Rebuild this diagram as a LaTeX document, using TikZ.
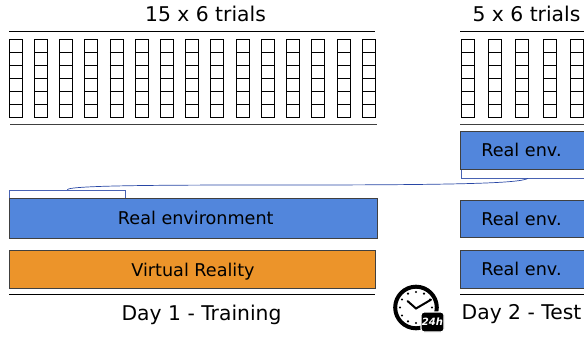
\documentclass[tikz,border=0pt]{standalone}
\usepackage{xcolor}
\usepackage{fontspec}
\setmainfont{DejaVu Sans}
\usetikzlibrary{calc}
\definecolor{envblue}{RGB}{82,134,220}
\definecolor{vrorange}{RGB}{236,148,42}
\definecolor{linkblue}{RGB}{40,70,165}
\tikzset{
  trialcell/.style={black, line width=0.8pt},
  condbox/.style={draw=black!75, line width=0.7pt, inner sep=0pt, font=\fontsize{17.6}{20}\selectfont},
  headrule/.style={black, line width=1.3pt},
  footrule/.style={black!75, line width=0.8pt},
  caption/.style={font=\fontsize{20.3}{24}\selectfont, inner sep=0pt},
  linkbox/.style={draw=linkblue!85, line width=0.7pt, inner sep=0pt, fill=white},
}
\begin{document}
\begin{tikzpicture}[x=1pt, y=-1pt]
  \useasboundingbox (0,0) rectangle (584,339);
  \clip (0,0) rectangle (584,339);
  \node[caption] (titletrain) at (205.5,14) {15 x 6 trials};
  \node[caption] (titletest) at (526.5,14) {5 x 6 trials};
  \draw[headrule] (9,31.5) -- (375,31.5);
  \draw[headrule] (460,31.5) -- (584,31.5);
  \draw[footrule] (10,124) -- (377,124);
  \draw[footrule] (460,124) -- (584,124);
  \draw[trialcell] (9.0,39) rectangle (22.0,117) (9.0,52) -- (22.0,52) (9.0,65) -- (22.0,65) (9.0,78) -- (22.0,78) (9.0,91) -- (22.0,91) (9.0,104) -- (22.0,104);
  \draw[trialcell] (34.2,39) rectangle (47.2,117) (34.2,52) -- (47.2,52) (34.2,65) -- (47.2,65) (34.2,78) -- (47.2,78) (34.2,91) -- (47.2,91) (34.2,104) -- (47.2,104);
  \draw[trialcell] (59.5,39) rectangle (72.5,117) (59.5,52) -- (72.5,52) (59.5,65) -- (72.5,65) (59.5,78) -- (72.5,78) (59.5,91) -- (72.5,91) (59.5,104) -- (72.5,104);
  \draw[trialcell] (84.7,39) rectangle (97.7,117) (84.7,52) -- (97.7,52) (84.7,65) -- (97.7,65) (84.7,78) -- (97.7,78) (84.7,91) -- (97.7,91) (84.7,104) -- (97.7,104);
  \draw[trialcell] (109.9,39) rectangle (122.9,117) (109.9,52) -- (122.9,52) (109.9,65) -- (122.9,65) (109.9,78) -- (122.9,78) (109.9,91) -- (122.9,91) (109.9,104) -- (122.9,104);
  \draw[trialcell] (135.2,39) rectangle (148.2,117) (135.2,52) -- (148.2,52) (135.2,65) -- (148.2,65) (135.2,78) -- (148.2,78) (135.2,91) -- (148.2,91) (135.2,104) -- (148.2,104);
  \draw[trialcell] (160.4,39) rectangle (173.4,117) (160.4,52) -- (173.4,52) (160.4,65) -- (173.4,65) (160.4,78) -- (173.4,78) (160.4,91) -- (173.4,91) (160.4,104) -- (173.4,104);
  \draw[trialcell] (185.6,39) rectangle (198.6,117) (185.6,52) -- (198.6,52) (185.6,65) -- (198.6,65) (185.6,78) -- (198.6,78) (185.6,91) -- (198.6,91) (185.6,104) -- (198.6,104);
  \draw[trialcell] (210.8,39) rectangle (223.8,117) (210.8,52) -- (223.8,52) (210.8,65) -- (223.8,65) (210.8,78) -- (223.8,78) (210.8,91) -- (223.8,91) (210.8,104) -- (223.8,104);
  \draw[trialcell] (236.1,39) rectangle (249.1,117) (236.1,52) -- (249.1,52) (236.1,65) -- (249.1,65) (236.1,78) -- (249.1,78) (236.1,91) -- (249.1,91) (236.1,104) -- (249.1,104);
  \draw[trialcell] (261.3,39) rectangle (274.3,117) (261.3,52) -- (274.3,52) (261.3,65) -- (274.3,65) (261.3,78) -- (274.3,78) (261.3,91) -- (274.3,91) (261.3,104) -- (274.3,104);
  \draw[trialcell] (286.5,39) rectangle (299.5,117) (286.5,52) -- (299.5,52) (286.5,65) -- (299.5,65) (286.5,78) -- (299.5,78) (286.5,91) -- (299.5,91) (286.5,104) -- (299.5,104);
  \draw[trialcell] (311.8,39) rectangle (324.8,117) (311.8,52) -- (324.8,52) (311.8,65) -- (324.8,65) (311.8,78) -- (324.8,78) (311.8,91) -- (324.8,91) (311.8,104) -- (324.8,104);
  \draw[trialcell] (337.0,39) rectangle (350.0,117) (337.0,52) -- (350.0,52) (337.0,65) -- (350.0,65) (337.0,78) -- (350.0,78) (337.0,91) -- (350.0,91) (337.0,104) -- (350.0,104);
  \draw[trialcell] (362.2,39) rectangle (375.2,117) (362.2,52) -- (375.2,52) (362.2,65) -- (375.2,65) (362.2,78) -- (375.2,78) (362.2,91) -- (375.2,91) (362.2,104) -- (375.2,104);
  \draw[trialcell] (461.3,39) rectangle (474.3,117) (461.3,52) -- (474.3,52) (461.3,65) -- (474.3,65) (461.3,78) -- (474.3,78) (461.3,91) -- (474.3,91) (461.3,104) -- (474.3,104);
  \draw[trialcell] (488.5,39) rectangle (501.5,117) (488.5,52) -- (501.5,52) (488.5,65) -- (501.5,65) (488.5,78) -- (501.5,78) (488.5,91) -- (501.5,91) (488.5,104) -- (501.5,104);
  \draw[trialcell] (515.7,39) rectangle (528.7,117) (515.7,52) -- (528.7,52) (515.7,65) -- (528.7,65) (515.7,78) -- (528.7,78) (515.7,91) -- (528.7,91) (515.7,104) -- (528.7,104);
  \draw[trialcell] (543.0,39) rectangle (556.0,117) (543.0,52) -- (556.0,52) (543.0,65) -- (556.0,65) (543.0,78) -- (556.0,78) (543.0,91) -- (556.0,91) (543.0,104) -- (556.0,104);
  \draw[trialcell] (570.2,39) rectangle (583.2,117) (570.2,52) -- (583.2,52) (570.2,65) -- (583.2,65) (570.2,78) -- (583.2,78) (570.2,91) -- (583.2,91) (570.2,104) -- (583.2,104);
  \node[linkbox, minimum width=134pt, minimum height=14pt] (linktest) at (528,171) {};
  \node[linkbox, minimum width=115.5pt, minimum height=14pt] (linktrain) at (67.3,197) {};
  \node[condbox, fill=envblue, minimum width=367.5pt, minimum height=39.5pt] (realtrain) at (193.3,218.2) {\kern5pt\raisebox{1pt}{Real environment}};
  \node[condbox, fill=vrorange, minimum width=366pt, minimum height=38pt, text depth=0pt] (vrtrain) at (192,269.5) {\kern2pt Virtual Reality};
  \node[condbox, fill=envblue, minimum width=126pt, minimum height=38pt] (realtesta) at (523,150) {\kern-3pt\raisebox{-1pt}{Real env.}};
  \node[condbox, fill=envblue, minimum width=126pt, minimum height=37pt] (realtestb) at (523,218.5) {\kern-3pt Real env.};
  \node[condbox, fill=envblue, minimum width=126pt, minimum height=38pt] (realtestc) at (523,269) {\kern-3pt Real env.};
  \coordinate (linkmid) at (290,185);
  \draw[linkblue, line width=0.7pt] (linktest.south) .. controls (520,183) and (470,185) .. (linkmid) .. controls (180,185) and (70,185) .. (linktrain.north);
  \draw[headrule] (9,294.5) -- (375,294.5);
  \draw[headrule] (460,294.5) -- (584,294.5);
  \node[caption] (daytrain) at (201.5,314.5) {Day 1 - Training};
  \node[caption] (daytest) at (521.5,314.5) {Day 2 - Test};
  % clock
  \draw[black, line width=4pt] (416,307.5) circle (20.8);
  \fill[black] (416,292) circle (1.2);
  \fill[black] (424,293.6) circle (1.2);
  \fill[black] (430,299.5) circle (1.2);
  \fill[black] (432,307.5) circle (1.2);
  \fill[black] (408,293.6) circle (1.2);
  \fill[black] (402,299.5) circle (1.2);
  \fill[black] (400,307.5) circle (1.2);
  \fill[black] (402,315.5) circle (1.2);
  \fill[black] (408,321.4) circle (1.2);
  \fill[black] (416,323) circle (1.2);
  \draw[black, line width=2pt, line cap=round] (407.5,301) -- (416,308.5) -- (431,299.7);
  \node[draw=white, line width=1.2pt, fill=black, rounded corners=3pt, inner sep=0pt, minimum width=23pt, minimum height=20pt, text=white, font=\fontsize{10}{12}\selectfont\bfseries\itshape] (badge) at (432.5,322) {24h};
\end{tikzpicture}
\end{document}
